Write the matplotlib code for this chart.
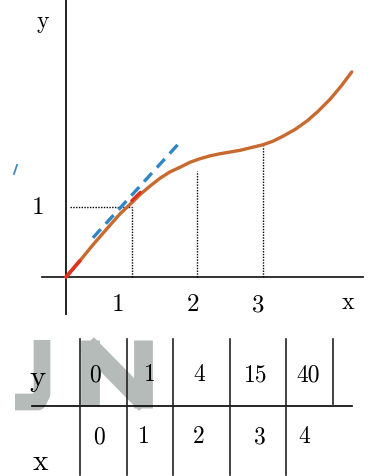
import numpy as np
import matplotlib
matplotlib.use("Agg")
import matplotlib.pyplot as plt

# curve y(x)
curve_x = [0.0, 0.21, 0.41, 0.67, 0.82, 1.0, 1.13, 1.28, 1.43, 1.58, 1.74, 1.89, 2.04, 2.19,
           2.34, 2.65, 3.0, 3.15, 3.30, 3.49, 3.67, 3.84, 4.02, 4.19, 4.35]
curve_y = [0.0, 0.23, 0.46, 0.74, 0.90, 1.06, 1.18, 1.30, 1.41, 1.50, 1.57, 1.64, 1.69, 1.73,
           1.76, 1.81, 1.89, 1.94, 2.01, 2.11, 2.23, 2.37, 2.54, 2.73, 2.93]

# tangent segment near x = 1
tangent_x = [0.41, 1.70]
tangent_y = [0.56, 1.89]

# dotted guides down to the x axis
guide_x = [1, 2, 3]
guide_top = [1.0, 1.51, 1.87]

# table of values
table_x = [0, 1, 2, 3, 4]
table_y = [0, 1, 4, 15, 40]

W, H = 373, 477
fig = plt.figure(figsize=(W / 100, H / 100), dpi=100)
fig.patch.set_facecolor("white")

# plot area: one x unit = 65.7 px, one y unit = 70 px, origin at (66, 278)
sx, sy, ox, oy = 65.7, 70.0, 66, 278
ax = fig.add_axes([0, 0, 1, 1])
ax.set_xlim(-ox / sx, (W - ox) / sx)
ax.set_ylim((oy - H) / sy, oy / sy)
ax.axis("off")

serif = "cmr10"

# axes
ax.plot([(42 - ox) / sx, (363 - ox) / sx], [0, 0], color="#222222", lw=1.3, zorder=2)
ax.plot([0, 0], [(oy - 315) / sy, oy / sy], color="#111111", lw=1.3, zorder=2)

# dotted guides
for gx, gt in zip(guide_x, guide_top):
    ax.plot([gx, gx], [0, gt], color="black", lw=1.0, ls=(0, (1, 1)), zorder=3)
ax.plot([0.06, 1], [1, 1], color="black", lw=1.0, ls=(0, (1, 1)), zorder=3)

# curve
ax.plot(curve_x, curve_y, color="#c86a30", lw=2.4, solid_capstyle="round",
        solid_joinstyle="round", zorder=4)
ax.plot(curve_x[:2], curve_y[:2], color="#e0301e", lw=2.6, solid_capstyle="round", zorder=5)
ax.plot(curve_x[5:7], [v + 0.03 for v in curve_y[5:7]], color="#e0301e", lw=2.2,
        solid_capstyle="round", zorder=5)

# tangent
ax.plot(tangent_x, tangent_y, color="#2f86c6", lw=2.4, ls=(0, (3.5, 2.2)), zorder=6)

# axis labels and ticks
ax.text((43 - ox) / sx, (oy - 22) / sy, "y", fontfamily=serif, fontsize=17, ha="center", va="center")
ax.text((348 - ox) / sx, (oy - 303) / sy, "x", fontfamily=serif, fontsize=17, ha="center", va="center")
ax.text((38 - ox) / sx, 1, "1", fontfamily=serif, fontsize=18, ha="center", va="center")
for gx, px in zip(guide_x, [118, 193, 258]):
    ax.text((px - ox) / sx, (oy - 305) / sy, str(gx), fontfamily=serif, fontsize=18,
            ha="center", va="center")
ax.plot([(14 - ox) / sx, (17 - ox) / sx], [(oy - 175) / sy, (oy - 166) / sy],
        color="#3a8cc8", lw=1.3)

# table drawn in pixel coordinates
tb = fig.add_axes([0, 0, 1, 1])
tb.set_xlim(0, W)
tb.set_ylim(H, 0)
tb.axis("off")
tb.patch.set_alpha(0)

# grey watermark letters
wm = "#b4bbb8"
tb.plot([90, 90], [341, 407], color=wm, lw=13.5, solid_capstyle="butt", zorder=1)
tb.plot([143, 143], [341, 409], color=wm, lw=13.5, solid_capstyle="butt", zorder=1)
tb.plot([87, 146], [345, 405], color=wm, lw=14, solid_capstyle="butt", zorder=1)
tb.plot([42, 42, 38, 15], [341, 395, 403, 403], color=wm, lw=12, solid_joinstyle="round",
        solid_capstyle="butt", zorder=1)

tb.plot([32, 352], [407, 407], color="black", lw=1.2, zorder=3)
col_lines = [80, 127, 173, 230, 286]
for cx in col_lines:
    tb.plot([cx, cx], [340, 476], color="#222222", lw=1.2, zorder=3)
tb.plot([333, 333], [340, 405], color="#222222", lw=1.2, zorder=3)

tb.text(38, 378, "y", fontfamily=serif, fontsize=22, ha="center", va="center", zorder=4)
tb.text(40, 470, "x", fontfamily=serif, fontsize=21, ha="center", va="baseline", zorder=4)

top_cols = [95, 150, 199, 256, 308]
bot_cols = [99, 144, 199, 260, 304]
for cx, v in zip(top_cols, table_y):
    tb.text(cx, 375, str(v), fontfamily=serif, fontsize=17, ha="center", va="center", zorder=4)
for cx, v in zip(bot_cols, table_x):
    tb.text(cx, 437, str(v), fontfamily=serif, fontsize=17, ha="center", va="center", zorder=4)

fig.savefig("out.png", dpi=100, facecolor="white")
